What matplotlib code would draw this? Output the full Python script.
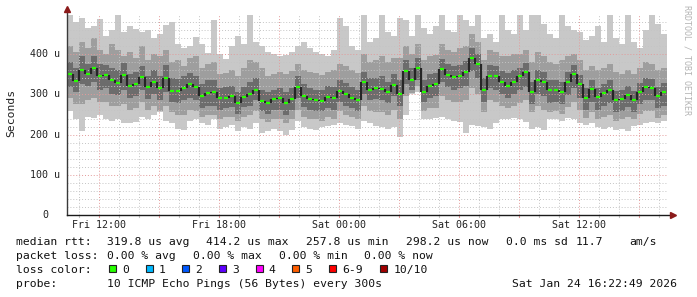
import datetime as dt

import matplotlib
matplotlib.use("Agg")
import matplotlib.pyplot as plt
import matplotlib.dates as mdates
import matplotlib.transforms as mtrans
from matplotlib.patches import Rectangle

# 100 consolidated steps (18 min each), round trip times in microseconds
median = [350, 334, 360, 350, 365, 345, 348, 336, 328, 348, 320, 326, 343, 318, 332, 317, 342, 309, 308, 317, 326, 318, 295, 304, 305,
          290, 292, 295, 278, 293, 300, 312, 284, 278, 288, 290, 278, 288, 318, 296, 289, 286, 284, 294, 290, 308, 300, 292, 285, 330,
          312, 315, 313, 305, 324, 300, 358, 335, 365, 307, 322, 325, 362, 349, 344, 345, 355, 390, 375, 310, 345, 345, 330, 322, 330,
          345, 355, 305, 335, 330, 310, 310, 305, 332, 350, 325, 292, 314, 293, 303, 310, 285, 289, 298, 285, 305, 318, 316, 296, 305]

# smoke: slowest / fastest ping, then the inner pairs
ping_hi = [497, 480, 490, 465, 470, 488, 445, 460, 497, 455, 470, 462, 455, 460, 440, 450, 472, 480, 425, 415, 420, 442, 425, 402, 485,
           400, 388, 420, 445, 425, 497, 430, 420, 405, 400, 395, 398, 405, 420, 430, 415, 405, 400, 395, 410, 490, 470, 420, 410, 497,
           430, 440, 497, 455, 445, 490, 485, 445, 497, 465, 450, 470, 497, 460, 455, 497, 485, 470, 497, 440, 450, 430, 497, 460, 450,
           497, 460, 497, 497, 475, 450, 440, 497, 470, 460, 455, 435, 445, 470, 430, 497, 440, 425, 497, 430, 415, 460, 497, 475, 450]
ping_hi2 = [420, 405, 430, 415, 440, 410, 400, 425, 410, 395, 405, 390, 420, 385, 400, 395, 410, 380, 385, 370, 390, 395, 365, 375, 380,
            350, 352, 360, 345, 365, 385, 380, 365, 345, 350, 355, 350, 358, 375, 360, 355, 352, 348, 355, 360, 375, 370, 360, 352, 400,
            380, 385, 395, 380, 390, 390, 420, 400, 425, 385, 395, 398, 425, 410, 405, 415, 420, 450, 430, 385, 410, 405, 395, 395, 400,
            400, 410, 380, 405, 395, 380, 375, 385, 395, 400, 385, 360, 370, 360, 365, 375, 355, 350, 360, 350, 365, 380, 375, 360, 365]
ping_hi3 = [380, 365, 395, 375, 395, 375, 372, 365, 360, 378, 350, 355, 370, 345, 360, 345, 372, 340, 338, 345, 352, 345, 325, 335, 335,
            315, 318, 320, 305, 318, 330, 340, 310, 305, 312, 315, 305, 315, 345, 325, 315, 312, 310, 320, 318, 335, 328, 318, 312, 355,
            340, 342, 345, 332, 350, 335, 385, 365, 390, 335, 350, 352, 388, 375, 370, 372, 382, 415, 400, 340, 372, 370, 358, 352, 360,
            365, 378, 330, 360, 355, 335, 335, 330, 355, 372, 348, 315, 335, 315, 325, 335, 308, 312, 320, 308, 328, 340, 338, 318, 328]
ping_lo3 = [318, 305, 325, 320, 330, 310, 315, 302, 298, 312, 292, 295, 310, 288, 300, 285, 305, 280, 278, 285, 292, 285, 265, 272, 270,
            262, 265, 268, 252, 268, 272, 285, 258, 252, 260, 262, 250, 262, 290, 268, 262, 258, 258, 265, 262, 280, 272, 265, 258, 300,
            285, 288, 285, 278, 295, 270, 325, 310, 335, 280, 292, 295, 330, 318, 312, 315, 322, 358, 340, 280, 315, 312, 300, 292, 300,
            310, 318, 275, 300, 295, 278, 280, 275, 298, 315, 290, 262, 282, 262, 272, 278, 255, 258, 268, 255, 275, 285, 285, 265, 272]
ping_lo2 = [290, 275, 275, 285, 290, 280, 280, 272, 270, 275, 262, 265, 280, 262, 270, 258, 270, 255, 248, 250, 262, 258, 245, 250, 250,
            240, 245, 245, 235, 245, 250, 258, 238, 232, 238, 240, 228, 240, 262, 245, 240, 238, 235, 245, 240, 258, 250, 245, 240, 270,
            258, 255, 255, 250, 262, 240, 295, 303, 320, 258, 265, 265, 295, 285, 280, 282, 285, 315, 300, 255, 285, 282, 270, 265, 270,
            278, 285, 255, 270, 262, 255, 258, 252, 268, 280, 262, 242, 255, 240, 245, 250, 235, 238, 245, 238, 252, 258, 258, 242, 250]
ping_lo = [258, 238, 210, 245, 242, 250, 240, 235, 238, 230, 228, 232, 245, 240, 250, 255, 235, 230, 215, 212, 235, 240, 230, 225, 240,
           215, 218, 225, 210, 220, 215, 230, 205, 208, 215, 210, 198, 212, 235, 220, 215, 212, 218, 222, 225, 228, 225, 222, 215, 235,
           228, 222, 218, 215, 220, 195, 250, 300, 305, 240, 238, 242, 245, 238, 235, 232, 205, 225, 222, 218, 215, 228, 240, 238, 242,
           240, 232, 215, 220, 212, 238, 240, 235, 242, 238, 230, 225, 228, 220, 215, 218, 212, 215, 208, 222, 225, 230, 232, 228, 235]

y_ticks = [0, 100, 200, 300, 400]
y_tick_labels = ["0", "100 u", "200 u", "300 u", "400 u"]
x_tick_times = [dt.datetime(2026, 1, 23, 12), dt.datetime(2026, 1, 23, 18), dt.datetime(2026, 1, 24, 0),
                dt.datetime(2026, 1, 24, 6), dt.datetime(2026, 1, 24, 12)]
x_tick_labels = ["Fri 12:00", "Fri 18:00", "Sat 00:00", "Sat 06:00", "Sat 12:00"]

loss_labels = ["0", "1", "2", "3", "4", "5", "6-9", "10/10"]
loss_colors = ["#26ff00", "#00b8ff", "#0059ff", "#5e00ff", "#ff00ff", "#ff5e00", "#ff0000", "#a10000"]

t_start = dt.datetime(2026, 1, 23, 10, 22, 49)
t_end = dt.datetime(2026, 1, 24, 16, 22, 49)

W, H = 697, 297
MONO = "DejaVu Sans Mono"

step = (t_end - t_start) / len(median)
edges = mdates.date2num([t_start + step * i for i in range(len(median) + 1)])


def ext(vals):
    # repeat the last value so the step fill covers the final slot
    return list(vals) + [vals[-1]]


fig = plt.figure(figsize=(W / 100, H / 100), dpi=100)
fig.patch.set_facecolor("white")
ax = fig.add_axes([67 / W, (H - 215) / H, 600 / W, 201 / H])
ax.set_xlim(mdates.date2num(t_start), mdates.date2num(t_end))
ax.set_ylim(0, 500)
for s in ax.spines.values():
    s.set_visible(False)
ax.set_xticks([])
ax.set_yticks([])

# smoke layers
ax.fill_between(edges, ext(ping_lo), ext(ping_hi), step="post", color="#c8c8c8", lw=0, zorder=1)
ax.fill_between(edges, ext(ping_lo2), ext(ping_hi2), step="post", color="#9e9e9e", lw=0, zorder=1.1)
ax.fill_between(edges, ext(ping_lo3), ext(ping_hi3), step="post", color="#6c6c6c", lw=0, zorder=1.2)

# grid on top of the smoke
dot = (0, (1, 2))
for v in range(20, 500, 20):
    ax.axhline(v, color="#e39a9a" if v % 100 == 0 else "#c4c4c4", lw=0.7, ls=dot, zorder=2)
t = dt.datetime(2026, 1, 23, 11)
while t < t_end:
    major = t.hour % 3 == 0
    ax.axvline(mdates.date2num(t), color="#e39a9a" if major else "#c4c4c4", lw=0.7, ls=dot, zorder=2)
    ax.plot([mdates.date2num(t)] * 2, [-0.012, 0], transform=ax.get_xaxis_transform(),
            color="#e39a9a" if major else "#c4c4c4", lw=0.8, clip_on=False)
    t += dt.timedelta(hours=1)

# median: dark vertical jumps, loss coloured level segments
lows = [min(a, b) for a, b in zip(median[:-1], median[1:])]
highs = [max(a, b) for a, b in zip(median[:-1], median[1:])]
ax.vlines(edges[1:-1], lows, highs, color="#262626", lw=1.6, zorder=3)
span = edges[1] - edges[0]
ax.hlines(median, edges[:-1] + span * 0.2, edges[1:] - span * 0.2, color=loss_colors[0], lw=1.6, zorder=4)

# axes with arrows
ax.plot([0, 0], [0, 1.025], transform=ax.transAxes, color="#3a3a3a", lw=1, clip_on=False, zorder=5)
ax.plot([0, 1.01], [0, 0], transform=ax.transAxes, color="#1a1a1a", lw=1, clip_on=False, zorder=5)
ax.plot([0], [1.025], transform=ax.transAxes, marker="^", ms=4, color="#8b1a1a", clip_on=False, zorder=6)
ax.plot([1.01], [0], transform=ax.transAxes, marker=">", ms=4, color="#8b1a1a", clip_on=False, zorder=6)

# tick labels
ylab_tr = mtrans.blended_transform_factory(fig.transFigure, ax.transData)
for v, lab in zip(y_ticks, y_tick_labels):
    x_right = 60 if lab.endswith("u") else 48
    ax.text(x_right / W, v, lab, transform=ylab_tr, ha="right", va="center",
            family=MONO, fontsize=7.2, color="#222222")
xlab_tr = mtrans.blended_transform_factory(ax.transData, fig.transFigure)
for tt, lab in zip(x_tick_times, x_tick_labels):
    ax.text(mdates.date2num(tt), 1 - 227.5 / H, lab, transform=xlab_tr,
            ha="center", va="baseline", family=MONO, fontsize=7.2, color="#222222")

fig.text(11 / W, 1 - 113 / H, "Seconds", rotation=90, ha="center", va="center",
         family=MONO, fontsize=8.2, color="#222222")
fig.text(687 / W, 1 - 60 / H, "RRDTOOL / TOBI OETIKER", rotation=270, ha="center", va="center",
         family=MONO, fontsize=6, color="#b4b4b4")


# legend block, each field placed where rrdtool put it
def line(x, y, s):
    fig.text(x / W, 1 - y / H, s, ha="left", va="baseline", family=MONO, fontsize=8.2, color="#111111")


for x, s in [(16, "median rtt:"), (107, "319.8 us avg"), (206.5, "414.2 us max"), (306.5, "257.8 us min"),
             (405.5, "298.2 us now"), (506.5, "0.0 ms sd"), (576, "11.7"), (629, "am/s")]:
    line(x, 245, s)
for x, s in [(16, "packet loss:"), (107, "0.00 % avg"), (193, "0.00 % max"), (279, "0.00 % min"), (364, "0.00 % now")]:
    line(x, 259, s)
line(16, 273, "loss color:")
box_x = 109
for lab, col in zip(loss_labels, loss_colors):
    fig.add_artist(Rectangle((box_x / W, 1 - 271.5 / H), 7 / W, 7 / H, transform=fig.transFigure,
                             facecolor=col, edgecolor="#222222", lw=0.8))
    line(box_x + 13, 273, lab)
    box_x += 36.7 + 7.13 * (len(lab) - 1)
line(16, 287, "probe:")
line(107, 287, "10 ICMP Echo Pings (56 Bytes) every 300s")
line(512, 287, "Sat Jan 24 16:22:49 2026")

fig.savefig("out.png", dpi=100, facecolor="white")
